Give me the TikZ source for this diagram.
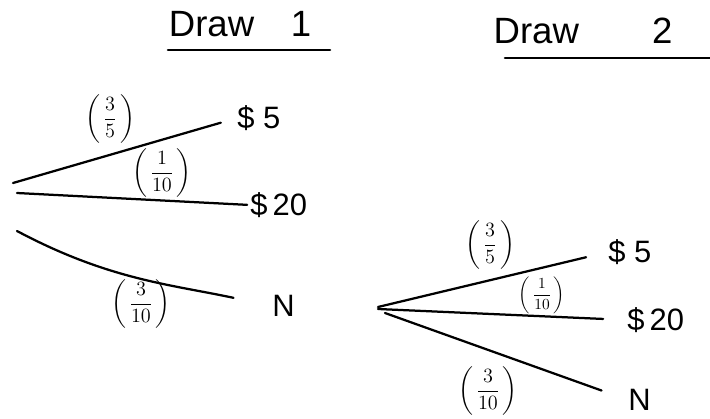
\documentclass[tikz,border=0pt]{standalone}
\usepackage{fontspec}
\setmainfont{Liberation Sans}
\usepackage{amsmath}
\usetikzlibrary{positioning}

\begin{document}
\begin{tikzpicture}[
  x=0.025cm, y=-0.025cm,
  title/.style={font=\fontsize{26}{30}\selectfont, inner sep=0pt},
  leaf/.style={font=\fontsize{22}{26}\selectfont, inner sep=0pt, anchor=west},
  prob/.style={font=\fontsize{14}{17}\selectfont, inner sep=0pt},
  branch/.style={line width=1.6pt, line cap=round},
  uline/.style={line width=1.8pt, line cap=round}
]
  \useasboundingbox (0,0) rectangle (710,419);

  % titles
  \node[title] (t1) at (240,24) {Draw\quad 1};
  \node[title] (t2) at (583,31) {Draw\qquad 2};
  \coordinate (u1a) at (168,50);
  \coordinate (u1b) at (330,50);
  \coordinate (u2a) at (505,58);
  \coordinate (u2b) at (710,58);
  \draw[uline] (u1a) -- (u1b);
  \draw[uline] (u2a) -- (u2b);

  % draw 1
  \coordinate (r1a) at (13,183);
  \coordinate (r1b) at (17,193);
  \coordinate (r1c) at (17,231);
  \node[leaf] (five1) at (237,118) {\$\;5};
  \node[leaf] (twenty1) at (250,205) {\$\,20};
  \node[leaf] (n1) at (272,306) {N};
  \draw[branch, shorten >=12pt] (r1a) -- (five1.west);
  \draw[branch, shorten >=2pt] (r1b) -- (twenty1.west);
  \draw[branch, shorten >=28pt] (r1c) to[out=-28, in=168] (n1.west);
  \node[prob] (p1a) at (110,119) {$\left(\,\dfrac{3}{5}\,\right)$};
  \node[prob] (p1b) at (162,173) {$\left(\,\dfrac{1}{10}\,\right)$};
  \node[prob] (p1c) at (141,304) {$\left(\,\dfrac{3}{10}\,\right)$};

  % draw 2
  \coordinate (r2a) at (378,307);
  \coordinate (r2b) at (378,309);
  \coordinate (r2c) at (385,313);
  \node[leaf] (five2) at (608,252) {\$\;5};
  \node[leaf] (twenty2) at (627,320) {\$\,20};
  \node[leaf] (n2) at (628,400) {N};
  \draw[branch, shorten >=16pt] (r2a) -- (five2.west);
  \draw[branch, shorten >=17pt] (r2b) -- (twenty2.west);
  \draw[branch, shorten >=20pt] (r2c) -- (n2.west);
  \node[prob] (p2a) at (490,245) {$\left(\,\dfrac{3}{5}\,\right)$};
  \node[prob, font=\fontsize{11}{13}\selectfont] (p2b) at (542,295) {$\left(\,\dfrac{1}{10}\,\right)$};
  \node[prob] (p2c) at (488,391) {$\left(\,\dfrac{3}{10}\,\right)$};
\end{tikzpicture}
\end{document}
